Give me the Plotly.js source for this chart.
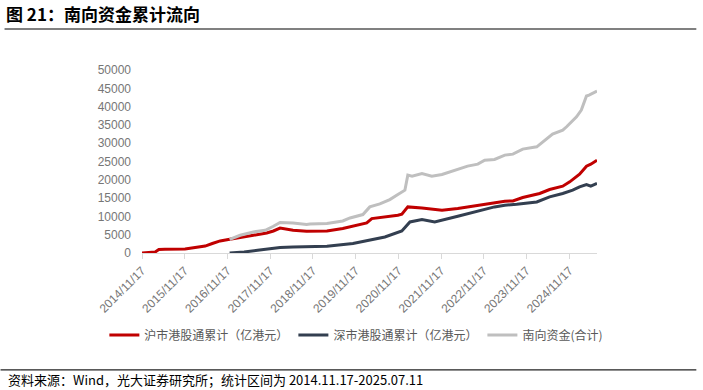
<!DOCTYPE html>
<html>
<head>
<meta charset="utf-8">
<script src="https://cdn.plot.ly/plotly-3.0.1.min.js"></script>
<style>
html,body{margin:0;padding:0;background:#fff;}
#chart{width:703px;height:390px;}
</style>
</head>
<body>
<div id="chart"></div>
<script>
// ---- data ----
const shDates = ['2014-11-17','2015-03-10','2015-04-10','2015-06-01','2015-11-20','2016-02-15','2016-05-10','2016-07-10','2016-09-15','2016-11-12','2017-03-05','2017-06-26','2017-10-18','2017-12-14','2018-02-09','2018-05-31','2018-09-24','2019-03-17','2019-07-30','2019-11-28','2020-02-20','2020-04-03','2020-08-10','2020-11-12','2020-12-16','2021-02-05','2021-06-06','2021-11-24','2022-04-08','2022-09-26','2023-01-22','2023-05-15','2023-07-23','2023-10-15','2024-03-08','2024-06-01','2024-09-21','2024-11-20','2025-02-12','2025-04-12','2025-05-19','2025-07-11'];
const shValues = [0,270,950,1050,1100,1500,1900,2600,3300,3600,4300,4840,5470,6020,6800,6210,5940,6020,6680,7580,8210,9400,9850,10300,10590,12590,12320,11690,12150,12970,13700,14150,14230,15160,16260,17350,18260,19430,21540,23730,24280,25370];

const szDates = ['2016-12-05','2017-04-08','2017-08-01','2017-11-10','2018-02-09','2018-05-31','2018-10-22','2019-03-17','2019-10-25','2020-02-20','2020-06-11','2020-07-24','2020-12-16','2021-01-11','2021-02-23','2021-06-06','2021-09-23','2022-04-08','2022-09-26','2023-02-16','2023-05-15','2023-08-25','2024-02-12','2024-06-01','2024-09-21','2024-12-15','2025-02-12','2025-04-12','2025-05-19','2025-07-11'];
const szValues = [0,270,740,1200,1480,1640,1700,1830,2570,3280,4020,4380,6020,6950,8480,9140,8480,10040,11410,12590,13060,13300,13960,15330,16260,17160,18060,18720,18260,19000];

const totDates = ['2016-12-05','2017-03-05','2017-06-26','2017-10-05','2017-12-14','2018-02-09','2018-05-31','2018-09-24','2018-10-22','2019-03-17','2019-07-30','2019-09-30','2020-01-18','2020-03-17','2020-06-11','2020-07-24','2020-09-04','2020-11-12','2021-01-11','2021-02-05','2021-03-13','2021-06-06','2021-08-29','2021-11-24','2022-03-14','2022-07-01','2022-09-26','2022-11-24','2023-02-16','2023-05-15','2023-07-23','2023-10-15','2024-02-12','2024-04-03','2024-06-26','2024-09-21','2024-10-24','2025-01-17','2025-02-27','2025-04-12','2025-05-04','2025-07-11'];
const totValues = [3700,4840,5750,6210,7310,8350,8210,7770,7940,8040,8760,9580,10500,12600,13400,13960,14600,15980,17160,21270,21000,21730,21000,21460,22640,23730,24280,25370,25560,26740,27010,28380,29010,30380,32490,33580,34490,37220,39060,42890,43160,44260];

const seriesNames = ['沪市港股通累计（亿港元）','深市港股通累计（亿港元）','南向资金(合计)'];
const tickDates = ['2014-11-17','2015-11-17','2016-11-17','2017-11-17','2018-11-17','2019-11-17','2020-11-17','2021-11-17','2022-11-17','2023-11-17','2024-11-17'];
const tickLabels = ['2014/11/17','2015/11/17','2016/11/17','2017/11/17','2018/11/17','2019/11/17','2020/11/17','2021/11/17','2022/11/17','2023/11/17','2024/11/17'];
const yTickVals = [0,5000,10000,15000,20000,25000,30000,35000,40000,45000,50000];
const yTickLabels = ['0','5000','10000','15000','20000','25000','30000','35000','40000','45000','50000'];

// ---- layout geometry ----
const W = 703, H = 390;
const L = 141.7, R = 597.5, T = 70, B = 252.7;
const pw = R - L, ph = B - T;
const px = x => (x - L) / pw;
const py = y => (B - y) / ph;

const CJK = '"Noto Sans CJK SC", "Liberation Sans", sans-serif';
const traces = [
  {x: shDates, y: shValues, name: seriesNames[0], type: 'scatter', mode: 'lines',
   line: {color: '#C00000', width: 3}},
  {x: szDates, y: szValues, name: seriesNames[1], type: 'scatter', mode: 'lines',
   line: {color: '#333F50', width: 3}},
  {x: totDates, y: totValues, name: seriesNames[2], type: 'scatter', mode: 'lines',
   line: {color: '#BFBFBF', width: 3}}
];

const layout = {
  width: W, height: H,
  margin: {l: L, r: W - R, t: T, b: H - B, pad: 0},
  paper_bgcolor: '#fff', plot_bgcolor: '#fff',
  font: {family: CJK, size: 12, color: '#595959'},
  title: {text: '<b>图 21：南向资金累计流向</b>', x: 6 / W, xanchor: 'left', xref: 'container',
          y: 1 - 15 / H, yanchor: 'middle', yref: 'container',
          font: {family: CJK, size: 17, color: '#000'}},
  xaxis: {type: 'date', range: ['2014-11-17', '2025-07-11'],
          tickmode: 'array', tickvals: tickDates, ticktext: tickLabels,
          tickangle: -45, ticks: 'outside', ticklen: 5, tickcolor: '#D9D9D9', tickwidth: 1,
          showline: true, linecolor: '#D9D9D9', linewidth: 1,
          showgrid: false, zeroline: false,
          tickfont: {family: '"Liberation Sans", Arial, sans-serif', size: 12, color: '#767676'}},
  yaxis: {range: [0, 50000], tickmode: 'array', tickvals: yTickVals, ticktext: yTickLabels,
          showgrid: false, zeroline: false,
          showline: false, ticks: '', ticklabelstandoff: 10,
          tickfont: {family: '"Liberation Sans", Arial, sans-serif', size: 12, color: '#767676'}},
  showlegend: true,
  legend: {orientation: 'h', x: px(104), xanchor: 'left', y: py(334.5), yanchor: 'middle',
           font: {family: CJK, size: 12, color: '#595959'}, itemwidth: 30,
           bgcolor: 'rgba(0,0,0,0)', traceorder: 'normal'},
  shapes: [
    {type: 'line', xref: 'paper', yref: 'paper', x0: px(4), x1: px(697), y0: py(29), y1: py(29),
     line: {color: '#808080', width: 2}},
    {type: 'line', xref: 'paper', yref: 'paper', x0: px(0), x1: px(697), y0: py(369.3), y1: py(369.3),
     line: {color: '#222', width: 1.3}}
  ],
  annotations: [
    {text: '资料来源：Wind，光大证券研究所；统计区间为 2014.11.17-2025.07.11',
     xref: 'paper', yref: 'paper', x: px(5), y: py(379), xanchor: 'left', yanchor: 'middle',
     showarrow: false, font: {family: CJK, size: 13, color: '#000'}}
  ]
};

Plotly.newPlot('chart', traces, layout, {staticPlot: true, displayModeBar: false});
</script>
</body>
</html>
